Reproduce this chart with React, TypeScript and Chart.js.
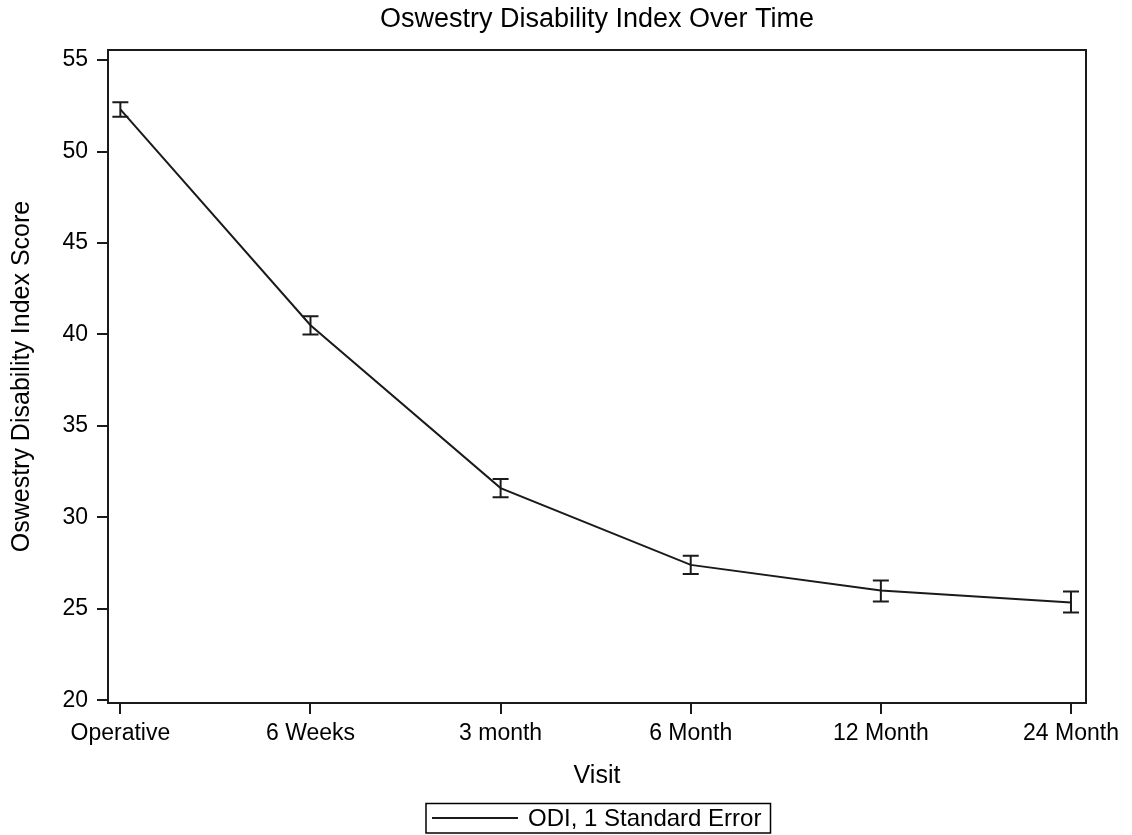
import React, { useEffect, useRef } from "react";
import { Chart, registerables } from "chart.js";

Chart.register(...registerables);

const visits = ["Operative", "6 Weeks", "3 month", "6 Month", "12 Month", "24 Month"];
const odiMean = [52.3, 40.5, 31.6, 27.4, 26.0, 25.35];
const odiLower = [51.9, 40.0, 31.1, 26.9, 25.4, 24.8];
const odiUpper = [52.7, 41.0, 32.1, 27.9, 26.55, 25.95];
const yTicks = [20, 25, 30, 35, 40, 45, 50, 55];

const chartTitle = "Oswestry Disability Index Over Time";
const yTitle = "Oswestry Disability Index Score";
const xTitle = "Visit";
const legendLabel = "ODI, 1 Standard Error";

const FONT = '"Liberation Sans", Arial, sans-serif';
const INK = "#1a1a1a";

const decorPlugin = {
  id: "decor",
  afterDatasetsDraw(chart: any) {
    const { ctx, chartArea, scales } = chart;
    const xs = scales.x;
    const ys = scales.y;
    ctx.save();
    ctx.strokeStyle = INK;
    ctx.lineWidth = 2;
    for (let i = 0; i < odiMean.length; i++) {
      const x = xs.getPixelForValue(i);
      const y1 = ys.getPixelForValue(odiLower[i]);
      const y2 = ys.getPixelForValue(odiUpper[i]);
      ctx.beginPath();
      ctx.moveTo(x, y1);
      ctx.lineTo(x, y2);
      ctx.moveTo(x - 8, y1);
      ctx.lineTo(x + 8, y1);
      ctx.moveTo(x - 8, y2);
      ctx.lineTo(x + 8, y2);
      ctx.stroke();
    }
    // frame
    ctx.strokeRect(chartArea.left, chartArea.top, chartArea.right - chartArea.left, chartArea.bottom - chartArea.top);
    ctx.restore();
  },
  afterDraw(chart: any) {
    const { ctx, chartArea } = chart;
    const cx = (chartArea.left + chartArea.right) / 2;
    const cy = (chartArea.top + chartArea.bottom) / 2;
    ctx.save();
    ctx.fillStyle = "#000";
    ctx.textAlign = "center";
    ctx.textBaseline = "middle";
    ctx.font = `27px ${FONT}`;
    ctx.fillText(chartTitle, cx, 20);
    ctx.font = `25px ${FONT}`;
    ctx.fillText(xTitle, cx, 776);
    ctx.save();
    ctx.translate(22, cy);
    ctx.rotate(-Math.PI / 2);
    ctx.fillText(yTitle, 0, 0);
    ctx.restore();
    // legend
    ctx.strokeStyle = "#000";
    ctx.lineWidth = 1.5;
    ctx.strokeRect(426, 803.5, 344.5, 29.5);
    ctx.strokeStyle = INK;
    ctx.lineWidth = 2;
    ctx.beginPath();
    ctx.moveTo(432, 818);
    ctx.lineTo(518, 818);
    ctx.stroke();
    ctx.font = `24px ${FONT}`;
    ctx.textAlign = "left";
    ctx.fillText(legendLabel, 528, 819);
    ctx.restore();
  },
};

export default function App() {
  const ref = useRef<HTMLCanvasElement | null>(null);
  useEffect(() => {
    document.body.style.margin = "0";
    const canvas = ref.current;
    if (!canvas) return;
    const chart = new Chart(canvas, {
      type: "line",
      data: {
        datasets: [
          {
            label: legendLabel,
            data: odiMean.map((v, i) => ({ x: i, y: v })),
            borderColor: INK,
            borderWidth: 2,
            pointRadius: 0,
            tension: 0,
            fill: false,
          },
        ],
      },
      options: {
        responsive: false,
        animation: false,
        layout: { padding: { top: 50, right: 46, left: 0, bottom: 0 } },
        plugins: {
          legend: { display: false },
          title: { display: false },
          tooltip: { enabled: false },
        },
        scales: {
          x: {
            type: "linear",
            min: -0.065,
            max: 5.079,
            afterBuildTicks: (scale: any) => {
              scale.ticks = visits.map((_, i) => ({ value: i }));
            },
            afterFit: (scale: any) => {
              scale.height = 132;
            },
            ticks: {
              callback: (v: any) => visits[v as number] ?? "",
              font: { size: 23, family: FONT },
              color: "#000",
              padding: 6,
              maxRotation: 0,
              autoSkip: false,
            },
            grid: { drawOnChartArea: false, drawTicks: true, tickLength: 11, color: INK, lineWidth: 2 },
            border: { display: false },
          },
          y: {
            type: "linear",
            min: 19.85,
            max: 55.55,
            afterBuildTicks: (scale: any) => {
              scale.ticks = yTicks.map((v) => ({ value: v }));
            },
            afterFit: (scale: any) => {
              scale.width = 108;
            },
            ticks: {
              font: { size: 23, family: FONT },
              color: "#000",
              padding: 9,
            },
            grid: { drawOnChartArea: false, drawTicks: true, tickLength: 11, color: INK, lineWidth: 2 },
            border: { display: false },
          },
        },
      },
      plugins: [decorPlugin],
    });
    return () => chart.destroy();
  }, []);
  return (
    <div style={{ width: 1132, height: 835 }}>
      <canvas ref={ref} width={1132} height={835} />
    </div>
  );
}
